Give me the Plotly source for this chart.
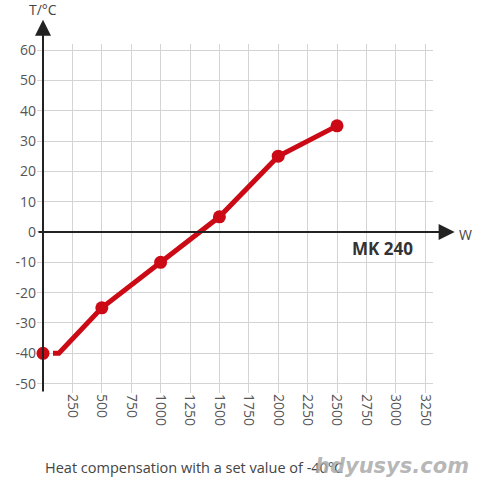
import plotly.graph_objects as go

# Data
marker_w = [0, 500, 1000, 1500, 2000, 2500]
marker_t = [-40, -25, -10, 5, 25, 35]
line_w = [85, 135, 500, 1000, 1500, 2000, 2500]
line_t = [-40, -40, -25, -10, 5, 25, 35]
x_ticks = [250, 500, 750, 1000, 1250, 1500, 1750, 2000, 2250, 2500, 2750, 3000, 3250]
y_ticks = [-50, -40, -30, -20, -10, 0, 10, 20, 30, 40, 50, 60]

RED = "#cc0a16"
FONT = "Open Sans"

fig = go.Figure()
fig.add_trace(go.Scatter(x=line_w, y=line_t, mode="lines",
                         line=dict(color=RED, width=5), hoverinfo="skip"))
fig.add_trace(go.Scatter(x=marker_w, y=marker_t, mode="markers",
                         marker=dict(color=RED, size=13), cliponaxis=False))

x_range = [-51, 3316]
y_range = [-53.1, 62.0]

L, R, T, B = 37, 47, 44, 87
PW, PH = 480 - L - R, 480 - T - B


def px(xp):
    return (xp - L) / PW


def py(yp_from_top):
    return (480 - yp_from_top - B) / PH


fig.update_layout(
    width=480, height=480,
    margin=dict(l=L, r=R, t=T, b=B),
    paper_bgcolor="white", plot_bgcolor="white",
    showlegend=False,
    font=dict(family=FONT, size=14, color="#555"),
    xaxis=dict(range=x_range, tickvals=x_ticks, ticktext=[str(v) for v in x_ticks],
               tickangle=90, showgrid=True, gridcolor="#d4d4d4", gridwidth=1.3,
               zeroline=False, showline=False, ticks="", fixedrange=True),
    yaxis=dict(range=y_range, tickvals=y_ticks, ticktext=[str(v) for v in y_ticks],
               showgrid=True, gridcolor="#d4d4d4", gridwidth=1.3,
               zeroline=False, showline=False, ticks="", fixedrange=True),
)

# Axis arrows
fig.add_annotation(x=0, y=70, ax=0, ay=y_range[0], xref="x", yref="y", axref="x", ayref="y",
                   showarrow=True, arrowhead=2, arrowsize=1.6, arrowwidth=2,
                   arrowcolor="#222", text="")
fig.add_annotation(x=3500, y=0, ax=x_range[0], ay=0, xref="x", yref="y", axref="x", ayref="y",
                   showarrow=True, arrowhead=2, arrowsize=1.6, arrowwidth=2,
                   arrowcolor="#222", text="")

fig.add_annotation(x=px(43), y=py(10), xref="paper", yref="paper", xanchor="center", yanchor="middle",
                   text="T/°C", showarrow=False,
                   font=dict(size=14, color="#444", family=FONT))
fig.add_annotation(x=px(466), y=py(234), xref="paper", yref="paper", xanchor="center", yanchor="middle",
                   text="W", showarrow=False,
                   font=dict(size=14, color="#444", family=FONT))
fig.add_annotation(x=2890, y=-5.5, xref="x", yref="y", text="<b>MK 240</b>", showarrow=False,
                   font=dict(size=17, color="#333", family=FONT))
fig.add_annotation(x=px(43), y=py(467), xref="paper", yref="paper", xanchor="left", yanchor="middle",
                   text="Heat compensation with a set value of -40°C", showarrow=False,
                   font=dict(size=14.5, color="#444", family=FONT))
fig.add_annotation(x=px(392), y=py(466), xref="paper", yref="paper", xanchor="center", yanchor="middle",
                   text="<b><i>hdyusys.com</i></b>", showarrow=False,
                   font=dict(size=21, color="rgba(170,170,170,0.85)", family="DejaVu Sans"))

fig.write_html("out.html")
